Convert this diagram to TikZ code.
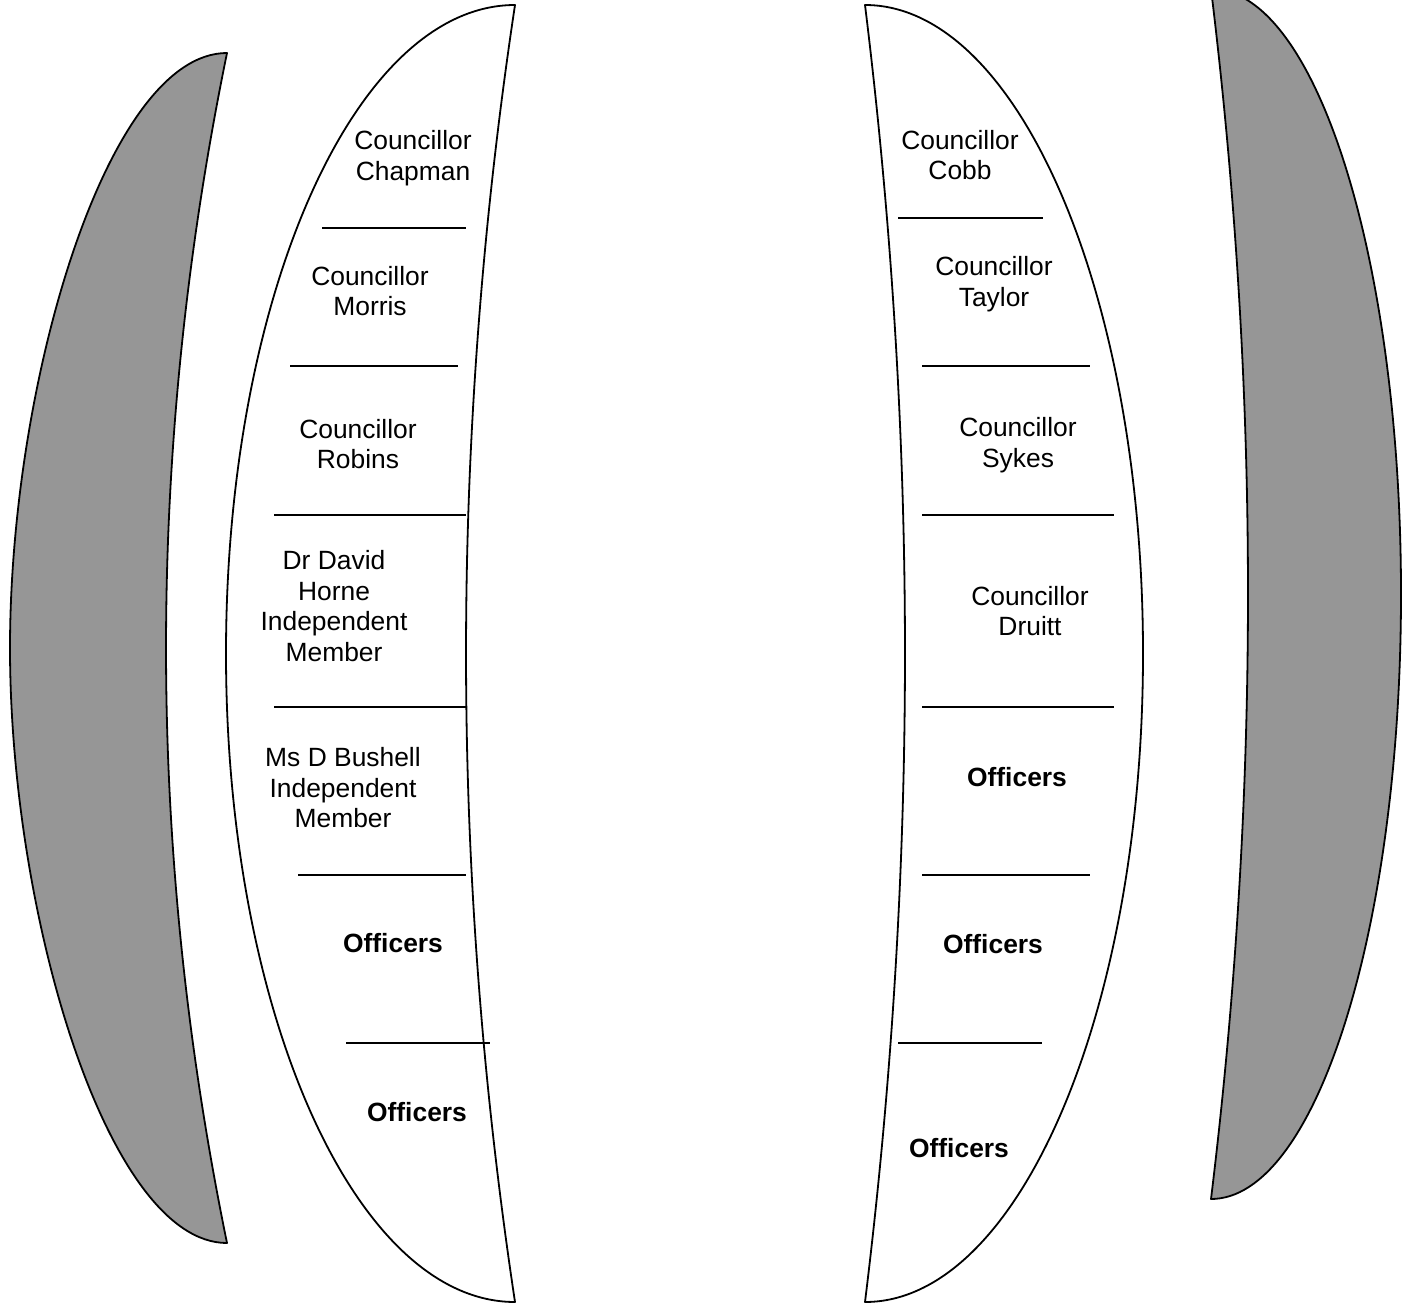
\documentclass[tikz,border=0pt]{standalone}
\usepackage{fontspec}
\setmainfont{Liberation Sans}
\definecolor{moongrey}{HTML}{969696}
\begin{document}
\begin{tikzpicture}[x=1pt,y=-1pt,
  outline/.style={draw=black,line width=1.8pt,line join=round},
  greymoon/.style={outline,fill=moongrey},
  whitemoon/.style={outline,fill=white},
  sep/.style={draw=black,line width=1.8pt},
  txt/.style={align=center,inner sep=0pt,font=\fontsize{26.4}{30.5}\selectfont},
  btxt/.style={txt,font=\fontsize{26.4}{30.5}\selectfont\bfseries}]
\useasboundingbox (0,0) rectangle (1403,1303);
\clip (0,0) rectangle (1403,1303);
% left grey crescent
\path[greymoon] (227,53) .. controls (107.2,53) and (10,381.4) .. (10,648)
  .. controls (10,914.6) and (107.2,1243) .. (227,1243)
  .. controls (145.7,846.3) and (145.7,449.7) .. (227,53) -- cycle;
% left white crescent
\path[whitemoon] (515,5) .. controls (355.4,5) and (226,295.3) .. (226,653.5)
  .. controls (226,1011.7) and (355.4,1302) .. (515,1302)
  .. controls (449.7,869.7) and (449.7,437.3) .. (515,5) -- cycle;
% right white crescent
\path[whitemoon] (865,5) .. controls (1018.5,5) and (1143,295.3) .. (1143,653.5)
  .. controls (1143,1011.7) and (1018.5,1302) .. (865,1302)
  .. controls (918.3,869.7) and (918.3,437.3) .. (865,5) -- cycle;
% right grey crescent
\path[greymoon] (1211,-11) .. controls (1315.9,-11) and (1401,259.9) .. (1401,594)
  .. controls (1401,928.1) and (1315.9,1199) .. (1211,1199)
  .. controls (1260.3,795.7) and (1260.3,392.3) .. (1211,-11) -- cycle;
% left separators
\draw[sep] (322,228) -- (466,228);
\draw[sep] (290,366) -- (458,366);
\draw[sep] (274,515) -- (466,515);
\draw[sep] (274,707) -- (466,707);
\draw[sep] (298,875) -- (466,875);
\draw[sep] (346,1043) -- (490,1043);
% right separators
\draw[sep] (898,218) -- (1043,218);
\draw[sep] (922,366) -- (1090,366);
\draw[sep] (922,515) -- (1114,515);
\draw[sep] (922,707) -- (1114,707);
\draw[sep] (922,875) -- (1090,875);
\draw[sep] (898,1043) -- (1042,1043);
% left texts
\node[txt] (chapman) at (413,158) {Councillor\\Chapman};
\node[txt] (morris) at (370,291) {Councillor\\Morris};
\node[txt] (robins) at (358,444) {Councillor\\Robins};
\node[txt] (horne) at (334,606) {Dr David\\Horne\\Independent\\Member};
\node[txt] (bushell) at (343,788) {Ms D Bushell\\Independent\\Member};
\node[btxt] (offl1) at (393,943) {Officers};
\node[btxt] (offl2) at (417,1112) {Officers};
% right texts
\node[txt] (cobb) at (960,155) {Councillor\\Cobb};
\node[txt] (taylor) at (994,284) {Councillor\\Taylor};
\node[txt] (sykes) at (1018,445) {Councillor\\Sykes};
\node[txt] (druitt) at (1030,611) {Councillor\\Druitt};
\node[btxt] (offr1) at (1017,777) {Officers};
\node[btxt] (offr2) at (993,944) {Officers};
\node[btxt] (offr3) at (959,1148) {Officers};
\end{tikzpicture}
\end{document}
